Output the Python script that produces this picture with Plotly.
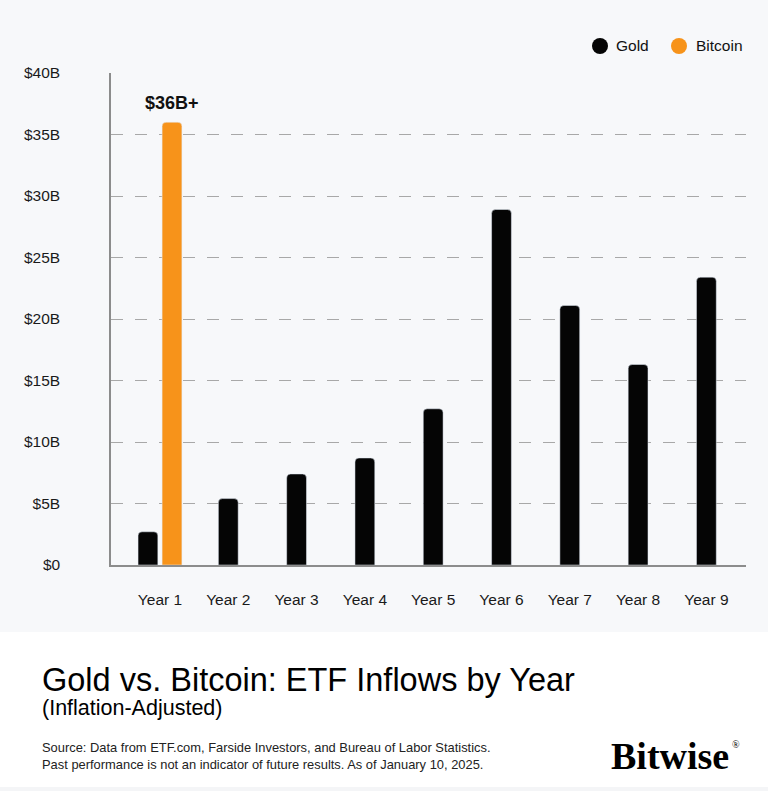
import plotly.graph_objects as go

categories = ["Year 1", "Year 2", "Year 3", "Year 4", "Year 5", "Year 6", "Year 7", "Year 8", "Year 9"]
gold_values = [2.7, 5.4, 7.4, 8.7, 12.7, 28.9, 21.1, 16.3, 23.4]
bitcoin_categories = ["Year 1"]
bitcoin_values = [36.0]
y_tick_vals = [0, 5, 10, 15, 20, 25, 30, 35, 40]
y_tick_text = ["$0", "$5B", "$10B", "$15B", "$20B", "$25B", "$30B", "$35B", "$40B"]

GOLD = "#050505"
BTC = "#F7931A"
FONT = "Liberation Sans, Arial, sans-serif"
SERIF = "Liberation Serif, Times New Roman, serif"

W = 0.29
gold_offsets = [-0.176 - W / 2 if c in bitcoin_categories else -W / 2 for c in categories]

fig = go.Figure()
fig.add_trace(go.Bar(x=categories, y=gold_values, name="Gold", marker_color=GOLD,
                     width=W, offset=gold_offsets, showlegend=False))
fig.add_trace(go.Bar(x=bitcoin_categories, y=bitcoin_values, name="Bitcoin", marker_color=BTC,
                     width=W, offset=[0.176 - W / 2], showlegend=False))

L, R, T, B = 111, 22, 73, 226
pw, ph = 768 - L - R, 791 - T - B

def px_x(x):
    return (x - L) / pw

def px_y(y):
    return (791 - B - y) / ph

shapes = [
    dict(type="rect", xref="paper", yref="paper", x0=px_x(0), x1=px_x(768), y0=px_y(632), y1=px_y(0),
         fillcolor="#f7f8fa", line_width=0, layer="below"),
    dict(type="rect", xref="paper", yref="paper", x0=px_x(0), x1=px_x(768), y0=px_y(791), y1=px_y(787),
         fillcolor="#f4f5f7", line_width=0, layer="below"),
]
for cx, col in [(600, GOLD), (679, BTC)]:
    shapes.append(dict(type="circle", xref="paper", yref="paper", xsizemode="pixel", ysizemode="pixel",
                       xanchor=px_x(cx), yanchor=px_y(46), x0=-8, x1=8, y0=-8, y1=8,
                       fillcolor=col, line_width=0))

annotations = [
    dict(x=0.176, y=36, xref="x", yref="y", text="<b>$36B+</b>", showarrow=False, yshift=19,
         font=dict(size=18, color="#111", family=FONT)),
    dict(x=px_x(614), y=px_y(46), xref="paper", yref="paper", text="Gold", showarrow=False,
         xanchor="left", yanchor="middle", font=dict(size=15.5, color="#111", family=FONT)),
    dict(x=px_x(694), y=px_y(46), xref="paper", yref="paper", text="Bitcoin", showarrow=False,
         xanchor="left", yanchor="middle", font=dict(size=15.5, color="#111", family=FONT)),
    dict(x=px_x(40), y=px_y(680), xref="paper", yref="paper", text="Gold vs. Bitcoin: ETF Inflows by Year",
         showarrow=False, xanchor="left", yanchor="middle", font=dict(size=32.5, color="#000", family=FONT)),
    dict(x=px_x(40), y=px_y(708), xref="paper", yref="paper", text="(Inflation-Adjusted)",
         showarrow=False, xanchor="left", yanchor="middle", font=dict(size=21.5, color="#000", family=FONT)),
    dict(x=px_x(40), y=px_y(756), xref="paper", yref="paper",
         text="Source: Data from ETF.com, Farside Investors, and Bureau of Labor Statistics.<br>"
              "Past performance is not an indicator of future results. As of January 10, 2025.",
         showarrow=False, xanchor="left", yanchor="middle", align="left",
         font=dict(size=12.9, color="#222", family=FONT)),
    dict(x=px_x(731), y=px_y(756), xref="paper", yref="paper", text="<b>Bitwise</b>",
         showarrow=False, xanchor="right", yanchor="middle",
         font=dict(size=38, color="#000", family=SERIF)),
    dict(x=px_x(730), y=px_y(744), xref="paper", yref="paper", text="®",
         showarrow=False, xanchor="left", yanchor="middle",
         font=dict(size=10, color="#000", family=SERIF)),
]

fig.update_layout(
    width=768, height=791,
    margin=dict(l=L, r=R, t=T, b=B, pad=0),
    paper_bgcolor="white", plot_bgcolor="rgba(0,0,0,0)",
    barmode="overlay", barcornerradius=4,
    shapes=shapes, annotations=annotations,
    font=dict(family=FONT, color="#1a1a1a"),
    xaxis=dict(type="category", range=[-0.717, 8.58], showgrid=False, showline=True,
               linecolor="#8c8c8c", linewidth=2, ticks="", ticklabelstandoff=19,
               tickfont=dict(size=15.5, color="#1a1a1a", family=FONT)),
    yaxis=dict(range=[0, 40], tickvals=y_tick_vals, ticktext=y_tick_text, showgrid=True,
               gridcolor="#a8a8a8", griddash="12px,12px", gridwidth=1, zeroline=False,
               showline=True, linecolor="#8c8c8c", linewidth=1.5, ticks="", ticklabelstandoff=46,
               tickfont=dict(size=15.5, color="#1a1a1a", family=FONT)),
)

fig.write_html("out.html")
